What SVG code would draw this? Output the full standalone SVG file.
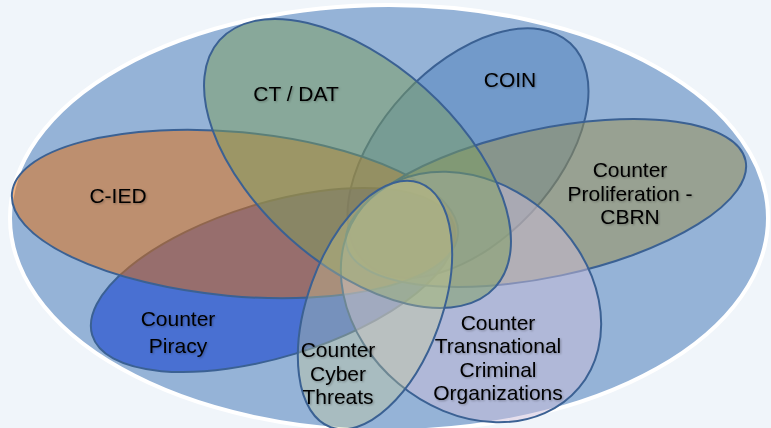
<svg xmlns="http://www.w3.org/2000/svg" width="771" height="428" viewBox="0 0 771 428">
<defs>
<style>
.lbl{font-family:"Liberation Sans",Arial,sans-serif;font-size:21px;fill:#000;text-anchor:middle;filter:url(#sh)}
.e{stroke:#3b6193;stroke-width:2}
</style>
<filter id="sh" x="-10%" y="-30%" width="130%" height="160%">
<feDropShadow dx="1" dy="1" stdDeviation="0.8" flood-color="#000" flood-opacity="0.3"/>
</filter>
</defs>
<rect width="771" height="428" fill="#f0f5fa"/>
<ellipse id="outer" cx="389" cy="218" rx="379" ry="213" fill="#95b3d7" stroke="#ffffff" stroke-width="4"/>
<g id="connectors"/>
<g id="coin">
<ellipse class="e" cx="468" cy="153" rx="150" ry="87" transform="rotate(-47 468 153)" fill="rgba(79,129,189,0.5)"/>
</g>
<g id="piracy">
<ellipse class="e" cx="273" cy="280" rx="189" ry="77" transform="rotate(-17 273 280)" fill="rgba(24,67,207,0.6)"/>
</g>
<g id="cied">
<ellipse class="e" cx="235" cy="214" rx="224" ry="82" transform="rotate(5.3 235 214)" fill="rgba(229,107,8,0.5)"/>
</g>
<g id="cbrn">
<ellipse class="e" cx="546" cy="203" rx="204" ry="74" transform="rotate(-12 546 203)" fill="rgba(155,143,77,0.5)"/>
</g>
<g id="tco">
<ellipse class="e" cx="471" cy="297" rx="141" ry="113" transform="rotate(40 471 297)" fill="rgba(203,189,217,0.5)"/>
</g>
<g id="ctdat">
<ellipse class="e" cx="357.5" cy="163.5" rx="185" ry="101" transform="rotate(41.8 357.5 163.5)" fill="rgba(123,157,93,0.5)"/>
</g>
<g id="cyber">
<ellipse class="e" cx="375" cy="305" rx="130" ry="67" transform="rotate(-70 375 305)" fill="rgba(203,205,149,0.35)"/>
</g>
<g id="labels">
<text class="lbl" x="296" y="101">CT / DAT</text>
<text class="lbl" x="510" y="87">COIN</text>
<text class="lbl" x="118" y="203">C-IED</text>
<text class="lbl" x="630" y="177">Counter<tspan x="630" y="200.5">Proliferation -</tspan><tspan x="630" y="224">CBRN</tspan></text>
<text class="lbl" x="178" y="326">Counter<tspan x="178" y="353">Piracy</tspan></text>
<text class="lbl" x="338" y="357">Counter<tspan x="338" y="380.5">Cyber</tspan><tspan x="338" y="404">Threats</tspan></text>
<text class="lbl" x="498" y="329.5">Counter<tspan x="498" y="353">Transnational</tspan><tspan x="498" y="376.5">Criminal</tspan><tspan x="498" y="400">Organizations</tspan></text>
</g>
</svg>
